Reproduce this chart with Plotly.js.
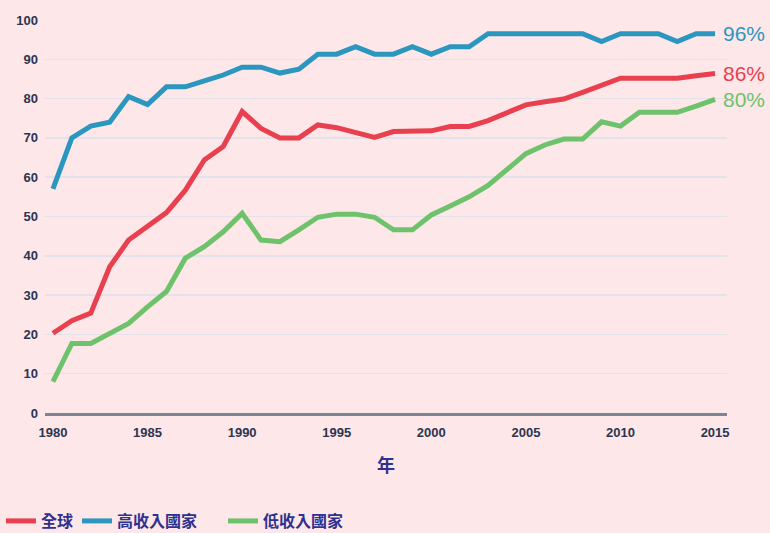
<!DOCTYPE html>
<html><head><meta charset="utf-8">
<script src="https://cdn.plot.ly/plotly-3.0.1.min.js"></script>
<style>html,body{margin:0;padding:0;background:#fde7e9}</style>
</head><body><div id="chart" style="width:770px;height:533px"></div>
<script>
const years = [1980,1981,1982,1983,1984,1985,1986,1987,1988,1989,1990,1991,1992,1993,1994,1995,1996,1997,1998,1999,2000,2001,2002,2003,2004,2005,2006,2007,2008,2009,2010,2011,2012,2013,2014,2015];
const seriesNames = ['全球', '高收入國家', '低收入國家'];
const globalVals = [20.3,23.5,25.4,37.2,44,47.4,51,56.7,64.4,67.8,76.7,72.4,70,70,73.3,72.6,71.2,70.1,71.6,71.6,71.8,72.9,72.9,74.4,76.3,78.4,79.2,79.9,81.6,83.5,85.2,85.2,85.2,85.2,85.8,86.4];
const highVals = [57,70,73,74,80.5,78.5,83,83,84.5,86,88,88,86.5,87.5,91.3,91.3,93.2,91.3,91.3,93.2,91.3,93.2,93.2,96.5,96.5,96.5,96.5,96.5,96.5,94.5,96.5,96.5,96.5,94.5,96.5,96.5];
const lowVals = [8,17.7,17.7,20.3,22.8,27,30.9,39.4,42.3,46.1,50.8,44,43.6,46.6,49.8,50.6,50.6,49.8,46.6,46.6,50.4,52.7,55,57.9,61.8,66,68.2,69.7,69.7,74.1,73,76.5,76.5,76.5,78.1,79.8];
const endLabels = ['86%', '96%', '80%'];
const xTitle = '年';

const colors = ['#e8404f', '#2b97bf', '#6dc26b'];
const allVals = [globalVals, highVals, lowVals];
const legendIds = ['legend', 'legend2', 'legend3'];

const traces = allVals.map((v, i) => ({
  x: years, y: v, name: seriesNames[i], type: 'scatter', mode: 'lines',
  line: {color: colors[i], width: 5, shape: 'linear'},
  legend: legendIds[i], hoverinfo: 'skip'
}));

const annotations = allVals.map((v, i) => ({
  x: years[years.length - 1], y: v[v.length - 1], xref: 'x', yref: 'y',
  text: endLabels[i], showarrow: false, xanchor: 'left', yanchor: 'middle', xshift: 6,
  font: {family: 'Liberation Sans, Arial, sans-serif', size: 21, color: colors[i]}
}));

const legendFont = {family: 'Noto Sans CJK TC, sans-serif', size: 16, color: '#2e318f', weight: 'bold'};
const legendX = [1, 77, 223];
const legendCommon = (xpx) => ({
  xref: 'container', yref: 'container', x: xpx / 770, y: 12 / 533, xanchor: 'left', yanchor: 'middle',
  orientation: 'h', font: legendFont, bgcolor: 'rgba(0,0,0,0)', borderwidth: 0
});

const layout = {
  width: 770, height: 533,
  paper_bgcolor: '#fde7e9', plot_bgcolor: '#fde7e9',
  margin: {l: 45, r: 43, t: 20, b: 120},
  showlegend: true,
  legend: legendCommon(legendX[0]),
  legend2: legendCommon(legendX[1]),
  legend3: legendCommon(legendX[2]),
  xaxis: {
    range: [1979.58, 2015.63], tick0: 1980, dtick: 5, showgrid: false, zeroline: false,
    showline: true, linecolor: '#7d8494', linewidth: 2.5, ticks: '',
    tickfont: {family: 'Liberation Sans, Arial, sans-serif', size: 13, color: '#2b3550', weight: 'bold'},
    ticklabelstandoff: 6,
    title: {text: xTitle, standoff: 21, font: {family: 'Noto Sans CJK TC, sans-serif', size: 18, color: '#2e318f', weight: 'bold'}},
    automargin: false, fixedrange: true
  },
  yaxis: {
    range: [0, 100], dtick: 10, tick0: 0, showgrid: true, gridcolor: '#e3e2ea', gridwidth: 1.5,
    zeroline: false, showline: false, ticks: '',
    tickfont: {family: 'Liberation Sans, Arial, sans-serif', size: 13, color: '#2b3550', weight: 'bold'},
    ticklabelstandoff: 6, automargin: false, fixedrange: true
  },
  annotations: annotations
};

Plotly.newPlot('chart', traces, layout, {displayModeBar: false, staticPlot: true});
</script>
</body></html>
